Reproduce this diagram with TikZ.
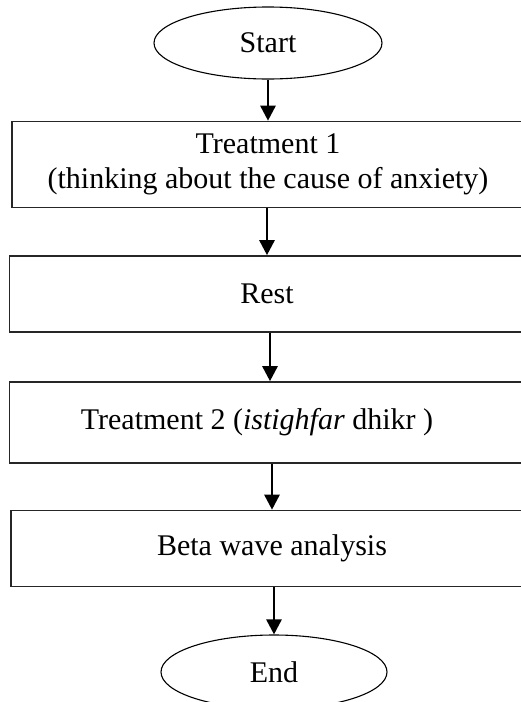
\documentclass[tikz,border=0pt]{standalone}
\usepackage{fontspec}
\setmainfont{Liberation Serif}
\usetikzlibrary{shapes.geometric,arrows.meta}
\begin{document}
\begin{tikzpicture}[x=1pt,y=-1pt,
  every node/.style={font=\fontsize{30}{35}\selectfont},
  term/.style={ellipse,draw=black,line width=1.1pt,inner sep=0pt},
  procbox/.style={rectangle,draw=black!85,line width=1.6pt,inner sep=0pt,align=center},
  arr/.style={line width=2.6pt,-{Triangle[width=15pt,length=15pt]}}]
\clip (0,0) rectangle (521,702);
\useasboundingbox (0,0) rectangle (521,702);
\node[term,minimum width=228pt,minimum height=72pt] (start) at (268,43) {Start};
\node[procbox,minimum width=512pt,minimum height=86pt] (b1) at (268,164.5)
  {Treatment 1\\(thinking about the cause of anxiety)};
\node[procbox,minimum width=515pt,minimum height=76pt] (b2) at (267,294) {Rest};
\node[procbox,minimum width=521pt,minimum height=81pt] (b3) at (270,422.5)
  {Treatment 2 (\textit{istighfar} dhikr )\hspace*{26pt}};
\node[procbox,minimum width=522pt,minimum height=76pt] (b4) at (272,548.5)
  {Beta wave analysis};
\node[term,minimum width=226pt,minimum height=74pt] (end) at (274,672) {End};
\draw[arr] (start.south) -- (b1.north);
\draw[arr] (b2.north |- b1.south) -- (b2.north);
\draw[arr] (b3.north |- b2.south) -- (b3.north);
\draw[arr] (b4.north |- b3.south) -- (b4.north);
\draw[arr] (end.north |- b4.south) -- (end.north);
\end{tikzpicture}
\end{document}
